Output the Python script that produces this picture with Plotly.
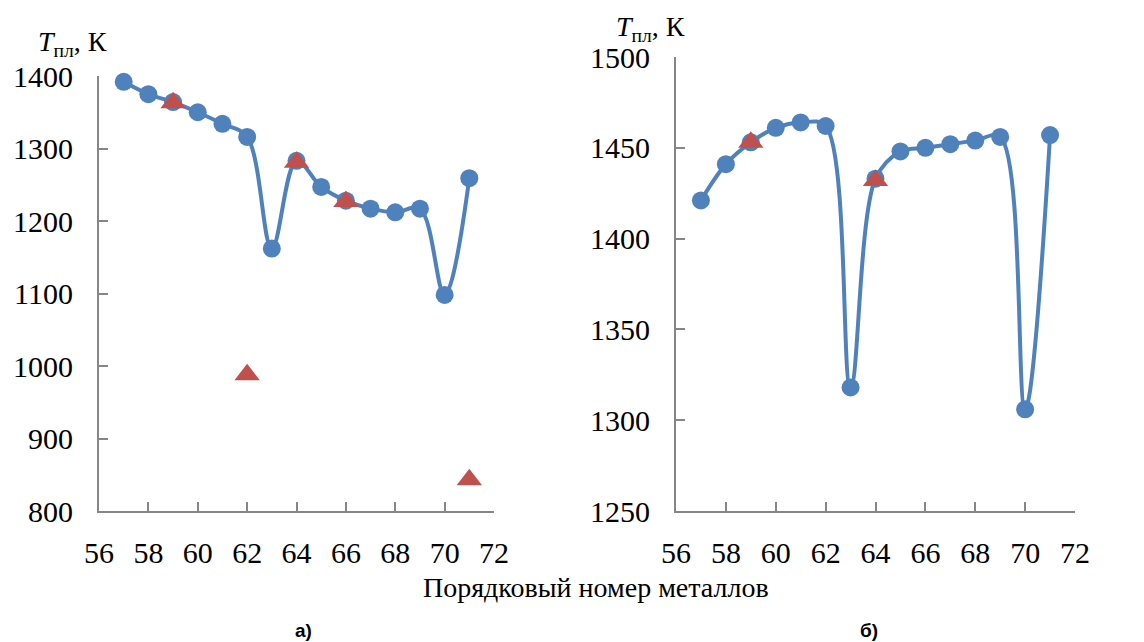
import plotly.graph_objects as go

z = list(range(57, 72))
left_calc = [1392, 1375, 1364, 1350, 1334, 1316, 1162, 1283, 1247, 1228, 1217, 1212, 1217, 1098, 1259]
left_exp_x = [59, 62, 64, 66, 71]
left_exp_y = [1363, 988, 1281, 1227, 843]

right_calc = [1421, 1441, 1453, 1461, 1464, 1462, 1318, 1433, 1448, 1450, 1452, 1454, 1456, 1306, 1457]
right_exp_x = [59, 64]
right_exp_y = [1453, 1432]

x_ticks = [56, 58, 60, 62, 64, 66, 68, 70, 72]
left_yticks = [800, 900, 1000, 1100, 1200, 1300, 1400]
right_yticks = [1250, 1300, 1350, 1400, 1450, 1500]

BLUE = "#4F81BD"
RED = "#C0504D"
AX = "#868686"
SERIF = "Liberation Serif, Times New Roman, DejaVu Serif, serif"

OFF = 8  # page body margin
W, H = 1144 - OFF, 642 - OFF
fig = go.Figure()

def add_panel(xa, ya, ycalc, ex, ey):
    fig.add_trace(go.Scatter(x=z, y=ycalc, mode="lines+markers",
                             line=dict(color=BLUE, width=4, shape="spline", smoothing=1.0),
                             marker=dict(color=BLUE, size=18, symbol="circle"),
                             xaxis=xa, yaxis=ya, cliponaxis=False, showlegend=False))
    fig.add_trace(go.Scatter(x=ex, y=ey, mode="markers",
                             marker=dict(color=RED, size=22, symbol="triangle-up"),
                             xaxis=xa, yaxis=ya, cliponaxis=False, showlegend=False))

add_panel("x", "y", left_calc, left_exp_x, left_exp_y)
add_panel("x2", "y2", right_calc, right_exp_x, right_exp_y)

common_x = dict(range=[56, 72], tickvals=x_ticks, showgrid=False, zeroline=False,
                showline=True, linecolor=AX, linewidth=2, ticks="inside", ticklen=9,
                tickcolor=AX, tickwidth=2, ticklabelstandoff=14, automargin=False,
                tickfont=dict(family=SERIF, size=30, color="black"))
common_y = dict(showgrid=False, zeroline=False, showline=True, linecolor=AX, linewidth=2,
                ticks="inside", ticklen=9, tickcolor=AX, tickwidth=2, ticklabelstandoff=18,
                automargin=False,
                tickfont=dict(family=SERIF, size=30, color="black"))

def px_x(p):
    return (p - OFF) / W

def px_y(p):
    return 1 - (p - OFF) / H

fig.update_layout(
    width=W, height=H, margin=dict(l=0, r=0, t=0, b=0, autoexpand=False),
    paper_bgcolor="white", plot_bgcolor="white",
    font=dict(family=SERIF),
    xaxis=dict(domain=[px_x(99), px_x(494)], anchor="y", **common_x),
    yaxis=dict(domain=[px_y(511), px_y(76)], anchor="x", range=[800, 1400],
               tickvals=left_yticks, **common_y),
    xaxis2=dict(domain=[px_x(676), px_x(1075)], anchor="y2", **common_x),
    yaxis2=dict(domain=[px_y(511), px_y(57)], anchor="x2", range=[1250, 1500],
                tickvals=right_yticks, **common_y),
)

ytitle = "<i>T</i><sub>пл</sub>, К"
ann = [
    dict(text=ytitle, x=px_x(109), y=px_y(44), xanchor="right", yanchor="middle", size=28),
    dict(text=ytitle, x=px_x(687), y=px_y(28), xanchor="right", yanchor="middle", size=28),
    dict(text="Порядковый номер металлов", x=px_x(596), y=px_y(587),
         xanchor="center", yanchor="middle", size=28),
]
for a in ann:
    sz = a.pop("size")
    fig.add_annotation(xref="paper", yref="paper", showarrow=False,
                       font=dict(family=SERIF, size=sz, color="black"), **a)
for t, xc in [("а)", 303), ("б)", 869)]:
    fig.add_annotation(xref="paper", yref="paper", showarrow=False, text="<b>" + t + "</b>",
                       x=px_x(xc), y=px_y(630), xanchor="center", yanchor="middle",
                       font=dict(family="Liberation Sans, Arial, sans-serif", size=19, color="black"))

fig.write_html("out.html")
